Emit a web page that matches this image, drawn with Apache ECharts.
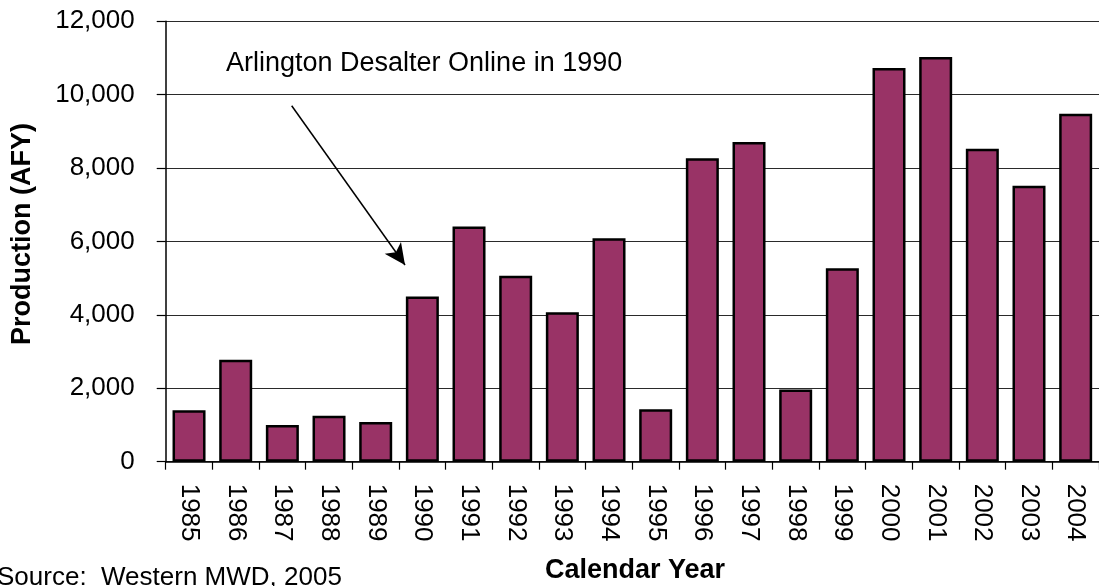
<!DOCTYPE html>
<html>
<head>
<meta charset="utf-8">
<script src="https://cdn.jsdelivr.net/npm/echarts@6/dist/echarts.min.js"></script>
<style>
html,body{margin:0;padding:0;background:#fff;}
#chart{width:1099px;height:586px;}
</style>
</head>
<body>
<div id="chart"></div>
<script>
var years = ['1985','1986','1987','1988','1989','1990','1991','1992','1993','1994','1995','1996','1997','1998','1999','2000','2001','2002','2003','2004'];
var production = [1400, 2780, 1000, 1250, 1080, 4500, 6410, 5070, 4070, 6090, 1430, 8270, 8710, 1970, 5270, 10730, 11030, 8530, 7520, 9480];
var yTicks = {min: 0, max: 12000, interval: 2000};
var annotationText = 'Arlington Desalter Online in 1990';
var xTitle = 'Calendar Year';
var yTitle = 'Production (AFY)';
var sourceText = 'Source:  Western MWD, 2005';

var FONT = '"Liberation Sans", Arial, sans-serif';
var chart = echarts.init(document.getElementById('chart'), null, {renderer: 'canvas'});
chart.setOption({
  animation: false,
  backgroundColor: '#fff',
  grid: {left: 165.7, top: 21.3, width: 940, height: 440.4, containLabel: false},
  xAxis: {
    type: 'category',
    data: years,
    axisLine: {show: true, lineStyle: {color: '#000', width: 1.5}},
    axisTick: {show: true, length: 8, alignWithLabel: false, lineStyle: {color: '#000', width: 1.2}},
    axisLabel: {rotate: -90, margin: 22, color: '#000', fontSize: 26, fontFamily: FONT, interval: 0},
    splitLine: {show: false}
  },
  yAxis: {
    type: 'value',
    min: yTicks.min, max: yTicks.max, interval: yTicks.interval,
    axisLine: {show: true, lineStyle: {color: '#000', width: 1.5}},
    axisTick: {show: true, length: 9, lineStyle: {color: '#000', width: 1.2}},
    axisLabel: {
      margin: 31, color: '#000', fontSize: 26, fontFamily: FONT,
      formatter: function (v) { return v.toLocaleString('en-US'); }
    },
    splitLine: {show: true, lineStyle: {color: '#2a2a2a', width: 1.2}}
  },
  series: [{
    type: 'bar',
    data: production,
    barWidth: 33,
    itemStyle: {color: '#993366', borderColor: '#000', borderWidth: 2.5},
    markLine: {
      silent: true,
      animation: false,
      symbol: ['none', 'arrow'],
      symbolSize: [15, 21],
      label: {show: false},
      lineStyle: {color: '#000', width: 1.5, type: 'solid'},
      data: [[{x: 291.7, y: 105.7}, {x: 405, y: 265}]]
    }
  }],
  graphic: [
    {type: 'text', left: 226, top: 50, style: {text: annotationText, fill: '#000', font: '27px ' + FONT}},
    {type: 'text', x: 635, y: 571, style: {text: xTitle, fill: '#000', font: 'bold 27px ' + FONT, align: 'center', verticalAlign: 'middle'}},
    {type: 'text', x: 23, y: 234, rotation: Math.PI / 2, style: {text: yTitle, fill: '#000', font: 'bold 27px ' + FONT, align: 'center', verticalAlign: 'middle'}},
    {type: 'text', x: -3, y: 578, style: {text: sourceText, fill: '#000', font: '26px ' + FONT, align: 'left', verticalAlign: 'middle'}}
  ]
});
</script>
</body>
</html>
